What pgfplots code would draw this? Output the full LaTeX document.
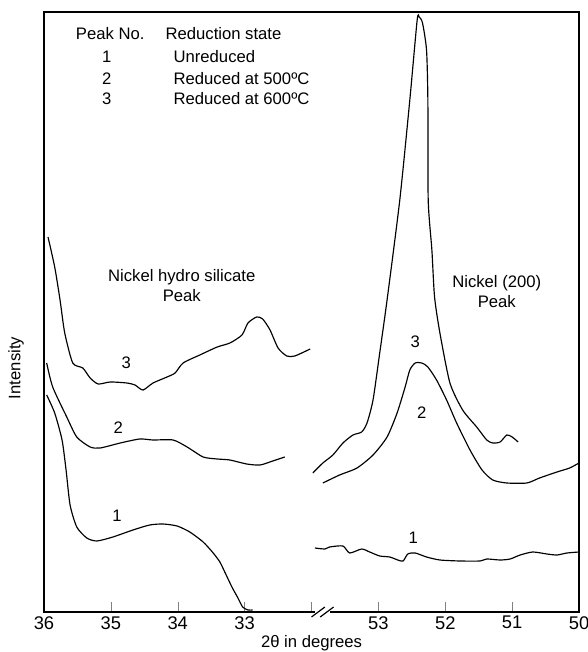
\documentclass[border=0pt]{standalone}
\usepackage{fontspec}
\setmainfont{Liberation Sans}
\usepackage{pgfplots}
\pgfplotsset{compat=1.18}
\usepackage{pgfplotstable}

% curves: 2theta (deg), intensity (arb.)
% left part of the axis: 36..32, right part: 54..50
\pgfplotstableread{
t y
35.94 375
35.84 345
35.76 312
35.69 279
35.57 249
35.42 244
35.31 234
35.19 228
35.01 230
34.76 229
34.64 227
34.52 222
34.37 229
34.16 235
34.04 239
33.92 249
33.67 257
33.41 265
33.22 269
33.04 277
32.95 289
32.82 295
32.73 293
32.62 282
32.50 264
32.37 256
32.25 256
32.02 263
}\threeL
\pgfplotstableread{
t y
35.96 249
35.87 225
35.66 195
35.51 175
35.31 165
35.16 164
34.86 169
34.57 173
34.37 172
34.07 172
33.86 165
33.62 155
33.41 153
33.22 152
32.97 148
32.77 147
32.58 151
32.40 155
}\twoL
\pgfplotstableread{
t y
35.96 217
35.84 199
35.73 172
35.67 142
35.61 107
35.51 85
35.36 74
35.21 71
34.97 75
34.67 82
34.42 87
34.22 88
34.01 86
33.82 80
33.62 70
33.47 59
33.37 50
33.29 39
33.19 25
33.10 14
33.03 5
32.95 2
32.88 2
}\oneL
\pgfplotstableread{
t y
53.98 139
53.83 149
53.68 157
53.53 169
53.38 177
53.25 180
53.17 189
53.08 212
52.98 259
52.87 312
52.68 412
52.53 512
52.42 592
52.39 595
52.34 589
52.28 562
52.26 512
52.255 412
52.20 362
52.16 315
52.08 279
51.93 229
51.74 202
51.53 185
51.38 172
51.29 169
51.18 170
51.08 177
51.00 175
50.91 170
}\threeR
\pgfplotstableread{
t y
53.83 129
53.58 137
53.32 144
53.08 157
52.87 175
52.72 199
52.60 225
52.53 242
52.45 249
52.35 249
52.26 245
52.13 232
51.98 212
51.83 189
51.63 162
51.45 142
51.29 132
51.08 129
50.78 129
50.59 134
50.33 140
50.14 144
50.00 149
}\twoR
\pgfplotstableread{
t y
53.95 64
53.80 63
53.73 65
53.53 66
53.43 59
53.25 63
53.13 60
52.98 56
52.83 55
52.71 52
52.63 51
52.56 58
52.45 59
52.28 55
52.08 52
51.78 51
51.48 51
51.38 53
51.18 52
51.03 53
50.88 57
50.69 60
50.48 58
50.33 57
50.18 59
50.00 60
}\oneR

\begin{document}
\begin{tikzpicture}
\begin{axis}[
    scale only axis,
    width=321pt, height=360pt,
    xmin=0, xmax=8, ymin=0, ymax=600,
    xtick={0,1,2,3,4,5,6,7,8},
    xticklabels={36,35,34,33,,53,52,51,50},
    ytick=\empty,
    tick align=inside,
    xtick pos=bottom,
    major tick length=6pt,
    xticklabel style={font=\fontsize{11}{13}\selectfont, yshift=1pt},
    axis line style={line width=0.8pt},
    clip=false,
    crv/.style={black, no markers, line width=0.7pt, smooth, tension=0.4},
    font=\fontsize{10}{12}\selectfont,
]
\addplot[crv] table[x expr=36-\thisrow{t}, y=y] {\threeL};
\addplot[crv] table[x expr=36-\thisrow{t}, y=y] {\twoL};
\addplot[crv] table[x expr=36-\thisrow{t}, y=y] {\oneL};
\addplot[crv] table[x expr=58-\thisrow{t}, y=y] {\threeR};
\addplot[crv] table[x expr=58-\thisrow{t}, y=y] {\twoR};
\addplot[crv] table[x expr=58-\thisrow{t}, y=y] {\oneR};

% axis break marks
\fill[white] (axis cs:4.05,-4) rectangle (axis cs:4.28,4);
\draw[line width=0.7pt] (axis cs:4.0,-5) -- (axis cs:4.2,5);
\draw[line width=0.7pt] (axis cs:4.13,-5) -- (axis cs:4.33,5);

% key
\node[anchor=base west] at (axis cs:0.39,572) {Peak No.};
\node[anchor=base west] at (axis cs:1.73,572) {Reduction state};
\node[anchor=base] at (axis cs:0.94,549) {1};
\node[anchor=base] at (axis cs:0.94,527) {2};
\node[anchor=base] at (axis cs:0.94,507) {3};
\node[anchor=base west] at (axis cs:1.85,549) {Unreduced};
\node[anchor=base west] at (axis cs:1.85,527) {Reduced at 500ºC};
\node[anchor=base west] at (axis cs:1.85,507) {Reduced at 600ºC};

% peak names
\node[align=center] at (axis cs:2.06,326) {Nickel hydro silicate\\Peak};
\node[align=center] at (axis cs:6.77,320) {Nickel (200)\\Peak};

% curve numbers
\node at (axis cs:1.23,249) {3};
\node at (axis cs:1.11,184) {2};
\node at (axis cs:1.09,96) {1};
\node at (axis cs:5.55,270) {3};
\node at (axis cs:5.65,199) {2};
\node at (axis cs:5.52,74) {1};

% axis titles
\node[rotate=90] at ([xshift=-16.8pt]axis cs:0,244) {Intensity};
\node at ([yshift=-18.6pt]axis cs:4,0) {2θ in degrees};
\end{axis}
\pgfresetboundingbox
\path ([xshift=-26.4pt,yshift=-24pt]current axis.south west)
  rectangle ([xshift=4.8pt,yshift=7.2pt]current axis.north east);
\end{tikzpicture}
\end{document}
